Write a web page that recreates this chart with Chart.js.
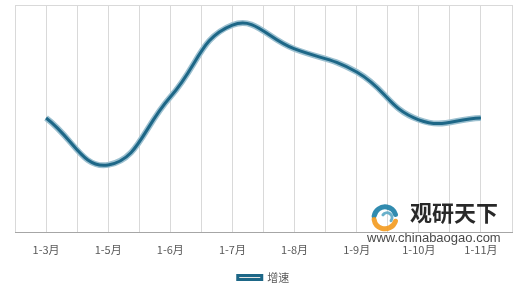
<!DOCTYPE html>
<html>
<head>
<meta charset="utf-8">
<script src="https://cdn.jsdelivr.net/npm/chart.js@4"></script>
<style>
  html, body { margin: 0; padding: 0; background: #fff; }
  #wrap { width: 520px; height: 285px; }
</style>
</head>
<body>
<div id="wrap"><canvas id="growthChart" width="520" height="285"></canvas></div>
<script>
// categories and values (y scale has no labels, 0-100 relative)
const months = ['1-3月', '1-5月', '1-6月', '1-7月', '1-8月', '1-9月', '1-10月', '1-11月'];
const growth = [50.4, 29.8, 59.6, 91.2, 80.7, 70.6, 49.6, 50.4];
const seriesName = '增速';

// watermark drawn on top of the plot area
const watermark = {
    id: 'watermark',
    afterDatasetsDraw(chart) {
        const ctx = chart.ctx;
        const a = chart.chartArea;
        const x0 = a.right - 145, yb = a.bottom;
        ctx.save();
        ctx.globalAlpha = 0.9;
        // logo swirl
        ctx.lineCap = 'round';
        ctx.lineWidth = 5;
        ctx.strokeStyle = '#1b7ea6';
        ctx.beginPath();
        ctx.arc(x0 + 18, yb - 15, 11, Math.PI * 1.05, Math.PI * 1.9);
        ctx.stroke();
        ctx.strokeStyle = '#f39a1e';
        ctx.beginPath();
        ctx.arc(x0 + 18, yb - 15, 11, Math.PI * 0.1, Math.PI * 0.95);
        ctx.stroke();
        ctx.lineWidth = 3;
        ctx.strokeStyle = '#5aa7c4';
        ctx.beginPath();
        ctx.arc(x0 + 20, yb - 15, 5, Math.PI * 1.2, Math.PI * 0.2);
        ctx.stroke();
        // name
        ctx.fillStyle = '#111';
        ctx.font = 'bold 22px "Noto Sans CJK SC"';
        ctx.textBaseline = 'middle';
        ctx.fillText('观研天下', x0 + 43, yb - 20);
        ctx.fillStyle = '#333';
        ctx.font = '13px "Liberation Sans"';
        ctx.fillText('www.chinabaogao.com', x0, yb + 6);
        ctx.restore();
    }
};

const ctx = document.getElementById('growthChart').getContext('2d');
const growthChart = new Chart(ctx, {
    type: 'line',
    data: {
        labels: months,
        datasets: [{
            label: seriesName,
            data: growth,
            borderColor: '#1d6787',
            borderWidth: 3,
            pointRadius: 0,
            tension: 0.45,
            fill: false,
            order: 0
        }, {
            label: 'halo',
            data: growth,
            borderColor: '#9cc0d0',
            borderWidth: 6,
            pointRadius: 0,
            tension: 0.45,
            fill: false,
            order: 1
        }]
    },
    options: {
        responsive: false,
        animation: false,
        layout: { padding: { left: 15, right: 8, top: 5, bottom: -8 } },
        scales: {
            x: {
                offset: true,
                grid: { offset: true, color: '#d9d9d9', drawTicks: false },
                border: { color: '#a6a6a6' },
                ticks: {
                    color: '#595959',
                    padding: 10,
                    font: { family: '"Noto Sans CJK SC"', size: 11 }
                },
                afterFit: scale => { scale.height += 4; }
            },
            x2: {
                position: 'top',
                offset: true,
                grid: { offset: false, color: '#d9d9d9', drawTicks: false },
                border: { color: '#d9d9d9' },
                ticks: { display: false }
            },
            y: {
                display: false,
                min: 0,
                max: 100
            }
        },
        plugins: {
            legend: {
                position: 'bottom',
                labels: {
                    filter: item => item.text === seriesName,
                    color: '#595959',
                    font: { family: '"Noto Sans CJK SC"', size: 11 },
                    boxWidth: 24,
                    boxHeight: 4,
                    padding: 2
                }
            },
            tooltip: { enabled: false }
        }
    },
    plugins: [watermark]
});
</script>
</body>
</html>
